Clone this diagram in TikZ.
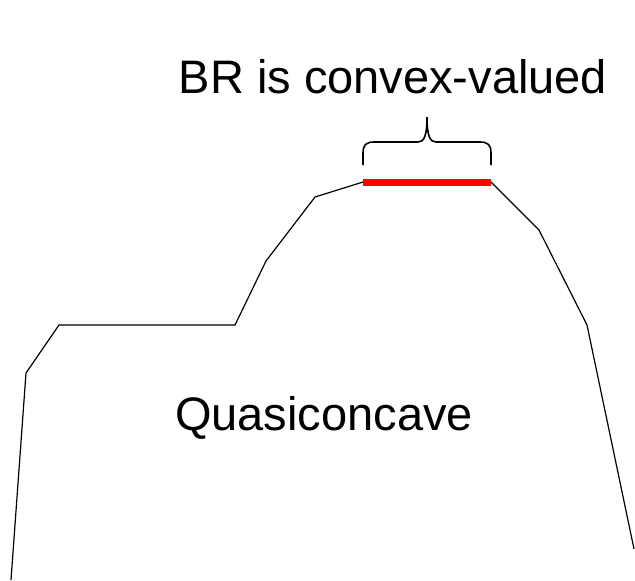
\documentclass[tikz,border=0pt]{standalone}
\usepackage{fontspec}
\setmainfont{Liberation Sans}
\begin{document}
\begin{tikzpicture}[x=0.5pt,y=-0.5pt]
    \useasboundingbox (0,0) rectangle (635,580);
    \tikzset{curve/.style={line width=0.6pt, black, line join=miter},
             bigtext/.style={inner sep=0pt, font=\fontsize{23.5}{28}\selectfont}}
    \coordinate (peakL) at (363,182);
    \coordinate (peakR) at (491,182);
    \draw[curve] (11,580) -- (26,373) -- (59,325) -- (235,325) -- (266,261) -- (315,197) -- (peakL);
    \draw[curve] (peakR) -- (539,230) -- (587,325) -- (634,549);
    \draw[line width=3.5pt, red] (peakL) -- (peakR);
    % brace over the flat top
    \coordinate (braceL) at (363,165);
    \coordinate (braceTip) at (427,117);
    \coordinate (braceR) at (491,165);
    \draw[line width=0.8pt] (braceL) -- (363,153) .. controls (363,145) and (366,142) .. (374,142) -- (418,142)
        .. controls (424,142) and (427,136) .. (braceTip)
        .. controls (427,136) and (430,142) .. (436,142) -- (480,142)
        .. controls (488,142) and (491,145) .. (491,153) -- (braceR);
    \node[bigtext, anchor=base] (brlabel) at (393,93) {BR is convex-valued};
    \node[bigtext, anchor=base] (quasi) at (324,430) {Quasiconcave};
  \end{tikzpicture}
\end{document}
